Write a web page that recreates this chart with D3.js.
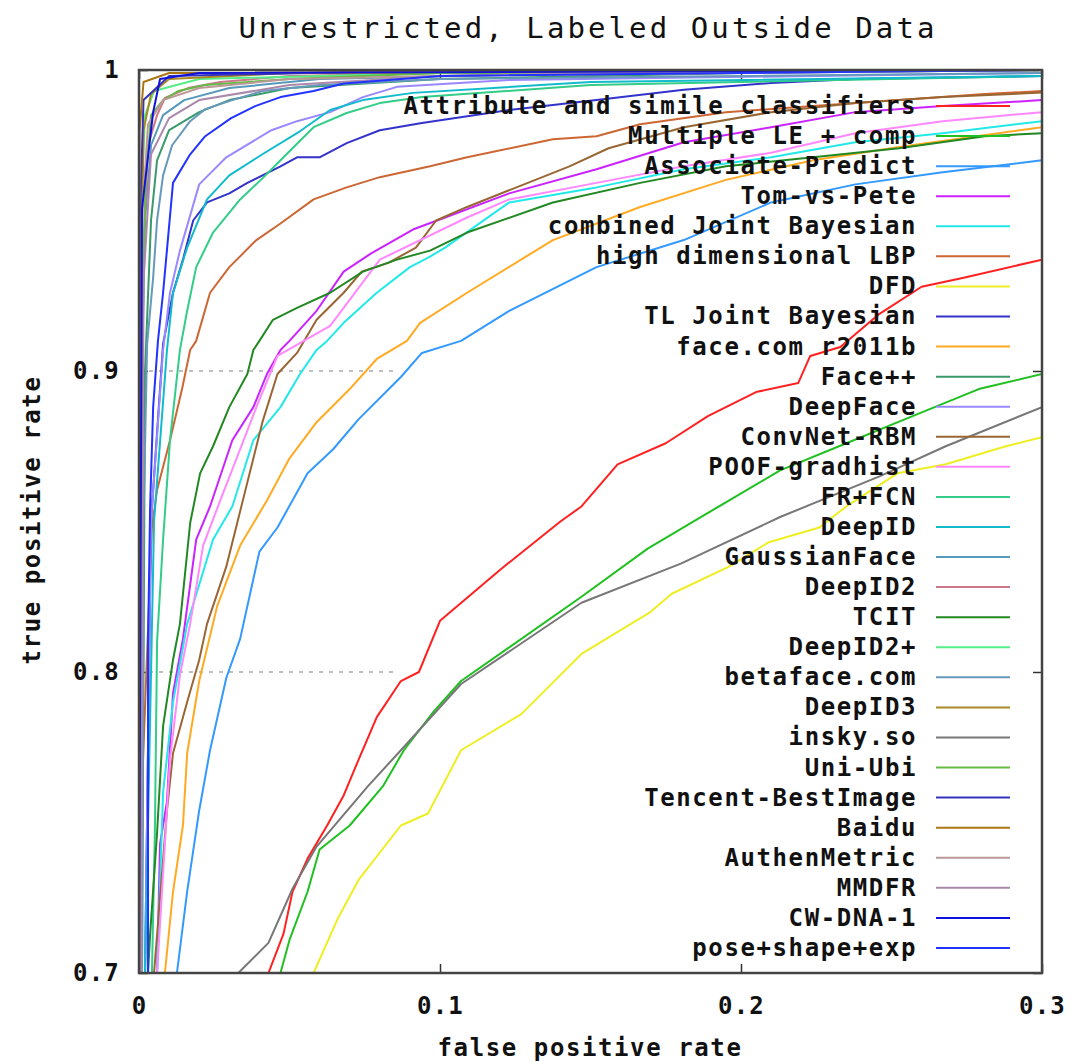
<!DOCTYPE html>
<html>
<head>
<meta charset="utf-8">
<script src="https://cdn.jsdelivr.net/npm/d3@7"></script>
<style>
  body { margin: 0; background: #fff; }
  text { font-family: "DejaVu Sans Mono", "Liberation Mono", monospace; }
</style>
</head>
<body>
<div id="chart"></div>
<script>
// method names, in legend order
const methods = [
  'Attribute and simile classifiers', 'Multiple LE + comp', 'Associate-Predict', 'Tom-vs-Pete',
  'combined Joint Bayesian', 'high dimensional LBP', 'DFD', 'TL Joint Bayesian', 'face.com r2011b',
  'Face++', 'DeepFace', 'ConvNet-RBM', 'POOF-gradhist', 'FR+FCN', 'DeepID', 'GaussianFace',
  'DeepID2', 'TCIT', 'DeepID2+', 'betaface.com', 'DeepID3', 'insky.so', 'Uni-Ubi',
  'Tencent-BestImage', 'Baidu', 'AuthenMetric', 'MMDFR', 'CW-DNA-1', 'pose+shape+exp'
];

const colors = [
  '#ff2020', '#20c020', '#3399ff', '#cc22ff', '#22e8e8', '#cc6633', '#eeee22', '#3333cc', '#ffaa22',
  '#3a9a6a', '#9988ff', '#996633', '#ff88ff', '#33cc88', '#11bbcc', '#5599bb', '#cc7788', '#228822',
  '#55ee88', '#6699bb', '#aa8822', '#777777', '#66bb44', '#3333bb', '#aa7711', '#bb9999', '#aa88aa',
  '#1111dd', '#2233ff'
];

// ROC points [false positive rate, true positive rate]
const attrSimile = [[0.043,0.7],[0.048,0.713],[0.051,0.727],[0.056,0.738],[0.0625,0.749],[0.068,0.759],[0.073,0.771],[0.079,0.785],[0.087,0.797],[0.093,0.8],[0.1,0.817],[0.12,0.834],[0.14,0.85],[0.147,0.855],[0.159,0.869],[0.175,0.876],[0.189,0.885],[0.205,0.893],[0.219,0.896],[0.223,0.905],[0.233,0.908],[0.246,0.919],[0.26,0.928],[0.274,0.931],[0.3,0.937]];
const multipleLE = [[0.047,0.7],[0.05,0.711],[0.056,0.727],[0.06,0.741],[0.07,0.749],[0.081,0.762],[0.088,0.774],[0.098,0.787],[0.107,0.797],[0.147,0.825],[0.169,0.841],[0.191,0.854],[0.213,0.867],[0.235,0.876],[0.257,0.885],[0.279,0.894],[0.3,0.899]];
const assocPredict = [[0.0126,0.7],[0.016,0.727],[0.02,0.754],[0.0236,0.774],[0.029,0.798],[0.0336,0.811],[0.04,0.84],[0.046,0.848],[0.056,0.866],[0.0645,0.874],[0.073,0.884],[0.087,0.898],[0.094,0.906],[0.107,0.91],[0.123,0.92],[0.152,0.9345],[0.181,0.9435],[0.21,0.956],[0.238,0.962],[0.267,0.966],[0.3,0.97]];
const tomVsPete = [[0.006,0.7],[0.007,0.743],[0.0093,0.757],[0.0113,0.793],[0.0146,0.811],[0.019,0.844],[0.0236,0.855],[0.031,0.877],[0.038,0.888],[0.0425,0.899],[0.047,0.907],[0.05,0.91],[0.059,0.92],[0.068,0.933],[0.077,0.939],[0.091,0.947],[0.1017,0.951],[0.123,0.959],[0.152,0.967],[0.181,0.976],[0.21,0.981],[0.238,0.986],[0.267,0.988],[0.3,0.99]];
const combinedJB = [[0.006,0.7],[0.008,0.76],[0.0113,0.79],[0.016,0.816],[0.0246,0.844],[0.031,0.855],[0.038,0.877],[0.047,0.888],[0.0535,0.899],[0.059,0.907],[0.0625,0.91],[0.068,0.916],[0.079,0.926],[0.09,0.9345],[0.0967,0.938],[0.1017,0.941],[0.123,0.956],[0.152,0.961],[0.181,0.967],[0.21,0.971],[0.238,0.976],[0.267,0.979],[0.3,0.983]];
const hdLBP = [[0.0005,0.7],[0.0013,0.77],[0.0043,0.848],[0.006,0.8605],[0.0103,0.877],[0.0143,0.894],[0.017,0.907],[0.019,0.91],[0.0236,0.926],[0.03,0.9345],[0.039,0.9435],[0.047,0.949],[0.058,0.957],[0.069,0.961],[0.08,0.9644],[0.0967,0.968],[0.109,0.971],[0.1375,0.977],[0.152,0.978],[0.1665,0.982],[0.195,0.986],[0.224,0.988],[0.2525,0.99],[0.281,0.992],[0.3,0.993]];
const dfd = [[0.058,0.7],[0.066,0.718],[0.073,0.731],[0.087,0.749],[0.096,0.753],[0.107,0.774],[0.127,0.786],[0.147,0.806],[0.17,0.82],[0.177,0.826],[0.196,0.835],[0.209,0.843],[0.226,0.848],[0.235,0.855],[0.252,0.866],[0.268,0.869],[0.288,0.875],[0.3,0.878]];
const tlJointBayes = [[0.002,0.7],[0.004,0.85],[0.008,0.909],[0.0113,0.926],[0.0146,0.937],[0.018,0.95],[0.0226,0.956],[0.03,0.959],[0.036,0.9625],[0.047,0.968],[0.0525,0.971],[0.06,0.971],[0.069,0.9757],[0.08,0.98],[0.094,0.9824],[0.123,0.9867],[0.152,0.99],[0.181,0.9934],[0.21,0.9957],[0.238,0.997],[0.3,0.998]];
const faceCom = [[0.0086,0.7],[0.0113,0.727],[0.0146,0.749],[0.016,0.773],[0.02,0.797],[0.026,0.822],[0.0336,0.842],[0.0425,0.857],[0.05,0.871],[0.059,0.883],[0.07,0.894],[0.079,0.904],[0.089,0.91],[0.0934,0.916],[0.109,0.926],[0.1375,0.9435],[0.1665,0.9545],[0.195,0.9635],[0.224,0.97],[0.2525,0.9744],[0.3,0.981]];
const facePlus = [[0.001,0.7],[0.002,0.9],[0.004,0.95],[0.006,0.97],[0.01,0.98],[0.02,0.986],[0.03,0.99],[0.05,0.994],[0.1,0.997],[0.2,0.999],[0.3,1]];
const deepFace = [[0.002,0.7],[0.004,0.85],[0.008,0.907],[0.0103,0.926],[0.0136,0.94],[0.02,0.962],[0.029,0.971],[0.044,0.98],[0.0525,0.983],[0.0635,0.986],[0.0744,0.991],[0.0857,0.9944],[0.123,0.9967],[0.3,0.999]];
const convNetRBM = [[0.005,0.7],[0.0093,0.754],[0.0113,0.773],[0.016,0.79],[0.02,0.804],[0.0226,0.816],[0.029,0.835],[0.036,0.863],[0.041,0.883],[0.046,0.899],[0.0525,0.906],[0.059,0.917],[0.068,0.926],[0.074,0.933],[0.083,0.936],[0.092,0.941],[0.0987,0.95],[0.109,0.9545],[0.143,0.968],[0.156,0.974],[0.181,0.981],[0.21,0.986],[0.238,0.989],[0.267,0.991],[0.3,0.9925]];
const poofGradhist = [[0.006,0.7],[0.0103,0.771],[0.0136,0.799],[0.017,0.816],[0.0213,0.842],[0.027,0.857],[0.0336,0.874],[0.039,0.888],[0.046,0.905],[0.0635,0.915],[0.08,0.937],[0.109,0.951],[0.123,0.957],[0.152,0.9625],[0.181,0.968],[0.21,0.9725],[0.238,0.979],[0.267,0.983],[0.3,0.986]];
const frFcn = [[0.0043,0.7],[0.0053,0.7485],[0.006,0.81],[0.008,0.844],[0.0103,0.877],[0.0136,0.907],[0.016,0.92],[0.019,0.9345],[0.0246,0.946],[0.0336,0.957],[0.041,0.964],[0.047,0.97],[0.058,0.981],[0.069,0.9857],[0.08,0.989],[0.094,0.991],[0.15,0.995],[0.3,0.998]];
const deepID = [[0.002,0.7],[0.005,0.85],[0.0093,0.907],[0.0113,0.926],[0.016,0.941],[0.0226,0.957],[0.03,0.965],[0.041,0.972],[0.0525,0.979],[0.0635,0.9867],[0.0744,0.99],[0.091,0.9924],[0.15,0.996],[0.3,0.998]];
const gaussianFace = [[0.0005,0.7],[0.001,0.9],[0.002,0.95],[0.004,0.975],[0.008,0.985],[0.015,0.99],[0.03,0.994],[0.06,0.997],[0.15,0.999],[0.3,1]];
const deepID2 = [[0.0003,0.7],[0.001,0.93],[0.003,0.975],[0.006,0.985],[0.0086,0.9907],[0.0163,0.994],[0.027,0.996],[0.05,0.998],[0.1,0.999],[0.3,1]];
const tcit = [[0.003,0.7],[0.0037,0.713],[0.006,0.7465],[0.008,0.782],[0.0113,0.804],[0.0136,0.816],[0.017,0.8495],[0.0203,0.866],[0.0246,0.875],[0.03,0.888],[0.036,0.899],[0.038,0.907],[0.04,0.91],[0.0445,0.917],[0.0525,0.921],[0.0635,0.926],[0.0744,0.933],[0.0857,0.937],[0.0967,0.94],[0.109,0.946],[0.1375,0.956],[0.1665,0.9625],[0.195,0.968],[0.224,0.971],[0.2525,0.974],[0.281,0.978],[0.3,0.979]];
const deepID2plus = [[0,0.7],[0.0005,0.95],[0.002,0.985],[0.005,0.993],[0.02,0.997],[0.1,0.999],[0.3,1]];
const betaface = [[0.001,0.7],[0.0015,0.85],[0.0027,0.909],[0.0047,0.931],[0.006,0.95],[0.008,0.965],[0.011,0.975],[0.017,0.983],[0.022,0.987],[0.031,0.99],[0.041,0.993],[0.06,0.995],[0.1,0.997],[0.3,0.999]];
const deepID3 = [[0,0.7],[0.0003,0.9],[0.0015,0.98],[0.004,0.992],[0.01,0.997],[0.05,0.999],[0.3,1]];
const inskySo = [[0.033,0.7],[0.043,0.71],[0.051,0.728],[0.059,0.742],[0.076,0.762],[0.087,0.774],[0.107,0.796],[0.147,0.823],[0.18,0.836],[0.213,0.8515],[0.246,0.865],[0.268,0.875],[0.3,0.888]];
const uniUbi = [[0.0005,0.7],[0.001,0.9],[0.002,0.96],[0.004,0.985],[0.008,0.99],[0.013,0.993],[0.022,0.995],[0.05,0.997],[0.1,0.999],[0.3,1]];
const tencent = [[0,0.7],[0.0003,0.95],[0.0015,0.99],[0.01,0.998],[0.1,1],[0.3,1]];
const baidu = [[0,0.7],[0.0002,0.98],[0.0015,0.996],[0.01,0.999],[0.3,1]];
const authenMetric = [[0.0005,0.7],[0.001,0.95],[0.003,0.982],[0.008,0.99],[0.02,0.994],[0.05,0.997],[0.15,0.999],[0.3,1]];
const mmdfr = [[0.0007,0.7],[0.0015,0.93],[0.004,0.972],[0.01,0.984],[0.02,0.99],[0.05,0.995],[0.1,0.998],[0.3,1]];
const cwDna = [[0,0.7],[0.001,0.954],[0.0047,0.986],[0.007,0.997],[0.02,0.999],[0.3,1]];
const poseShapeExp = [[0.003,0.7],[0.003,0.81],[0.0037,0.855],[0.0047,0.888],[0.0063,0.91],[0.008,0.926],[0.0113,0.9625],[0.017,0.972],[0.022,0.978],[0.0306,0.984],[0.0386,0.988],[0.047,0.991],[0.058,0.993],[0.068,0.9955],[0.1,0.998],[0.3,1]];

const curves = [
  attrSimile, multipleLE, assocPredict, tomVsPete, combinedJB, hdLBP, dfd, tlJointBayes, faceCom,
  facePlus, deepFace, convNetRBM, poofGradhist, frFcn, deepID, gaussianFace, deepID2, tcit,
  deepID2plus, betaface, deepID3, inskySo, uniUbi, tencent, baidu, authenMetric, mmdfr, cwDna, poseShapeExp
];

const xTicks = [0, 0.1, 0.2, 0.3];
const yTicks = [0.7, 0.8, 0.9, 1];
const gridLevels = [0.8, 0.9];

const width = 1076, height = 1062;
const plotLeft = 139, plotRight = 1042, plotTop = 70, plotBottom = 973;

const x = d3.scaleLinear().domain([0, 0.3]).range([plotLeft, plotRight]);
const y = d3.scaleLinear().domain([0.7, 1]).range([plotBottom, plotTop]);

const svg = d3.select('#chart').append('svg')
  .attr('width', width)
  .attr('height', height);

svg.append('text')
  .attr('x', 588).attr('y', 38)
  .attr('text-anchor', 'middle')
  .attr('font-size', 29)
  .attr('letter-spacing', 3.1)
  .attr('fill', '#111')
  .text('Unrestricted, Labeled Outside Data');

// grid stops where the key box starts
const keyLeft = 397;
svg.append('g').selectAll('line')
  .data(gridLevels)
  .enter().append('line')
  .attr('x1', plotLeft).attr('x2', keyLeft)
  .attr('y1', d => y(d)).attr('y2', d => y(d))
  .attr('stroke', '#aaa')
  .attr('stroke-width', 1.5)
  .attr('stroke-dasharray', '4,6');

// axes with inward ticks, mirrored
const tickFmt = d => d === 0 ? '0' : d === 1 ? '1' : d3.format('.1f')(d);
svg.append('g').attr('transform', `translate(0,${plotBottom})`)
  .call(d3.axisBottom(x).tickValues(xTicks).tickSize(-9).tickPadding(24).tickFormat(tickFmt));
svg.append('g').attr('transform', `translate(0,${plotTop})`)
  .call(d3.axisTop(x).tickValues(xTicks).tickSize(-9).tickFormat(''));
svg.append('g').attr('transform', `translate(${plotLeft},0)`)
  .call(d3.axisLeft(y).tickValues(yTicks).tickSize(-9).tickPadding(19).tickFormat(tickFmt));
svg.append('g').attr('transform', `translate(${plotRight},0)`)
  .call(d3.axisRight(y).tickValues(yTicks).tickSize(-9).tickFormat(''));

svg.selectAll('.domain').remove();
svg.selectAll('.tick line').attr('stroke', '#333').attr('stroke-width', 1.5);
svg.selectAll('.tick text')
  .attr('font-size', 24)
  .attr('font-weight', 'bold')
  .attr('letter-spacing', 1.2)
  .attr('fill', '#111');

svg.append('defs').append('clipPath').attr('id', 'plot-clip')
  .append('rect')
  .attr('x', plotLeft).attr('y', plotTop)
  .attr('width', plotRight - plotLeft).attr('height', plotBottom - plotTop);

const line = d3.line()
  .x(d => x(d[0]))
  .y(d => y(d[1]));

svg.append('g')
  .attr('clip-path', 'url(#plot-clip)')
  .selectAll('path')
  .data(curves)
  .enter().append('path')
  .attr('d', line)
  .attr('fill', 'none')
  .attr('stroke', (_, i) => colors[i])
  .attr('stroke-width', 2)
  .attr('stroke-linejoin', 'round');

// legend
const rowY = i => 106 + i * 30.07;
const key = svg.append('g');
key.selectAll('text')
  .data(methods)
  .enter().append('text')
  .attr('x', 917)
  .attr('y', (_, i) => rowY(i) + 8)
  .attr('text-anchor', 'end')
  .attr('font-size', 24)
  .attr('font-weight', 'bold')
  .attr('letter-spacing', 1.6)
  .attr('fill', '#111')
  .text(d => d);
key.selectAll('line')
  .data(methods)
  .enter().append('line')
  .attr('x1', 936).attr('x2', 1010)
  .attr('y1', (_, i) => rowY(i)).attr('y2', (_, i) => rowY(i))
  .attr('stroke', (_, i) => colors[i])
  .attr('stroke-width', 2);

// frame
svg.append('rect')
  .attr('x', plotLeft).attr('y', plotTop)
  .attr('width', plotRight - plotLeft).attr('height', plotBottom - plotTop)
  .attr('fill', 'none')
  .attr('stroke', '#444')
  .attr('stroke-width', 2.5);

svg.append('text')
  .attr('x', 590).attr('y', 1056)
  .attr('text-anchor', 'middle')
  .attr('font-size', 24)
  .attr('font-weight', 'bold')
  .attr('letter-spacing', 1.6)
  .attr('fill', '#111')
  .text('false positive rate');

svg.append('text')
  .attr('transform', 'translate(40,520) rotate(-90)')
  .attr('text-anchor', 'middle')
  .attr('font-size', 24)
  .attr('font-weight', 'bold')
  .attr('letter-spacing', 1.6)
  .attr('fill', '#111')
  .text('true positive rate');
</script>
</body>
</html>
